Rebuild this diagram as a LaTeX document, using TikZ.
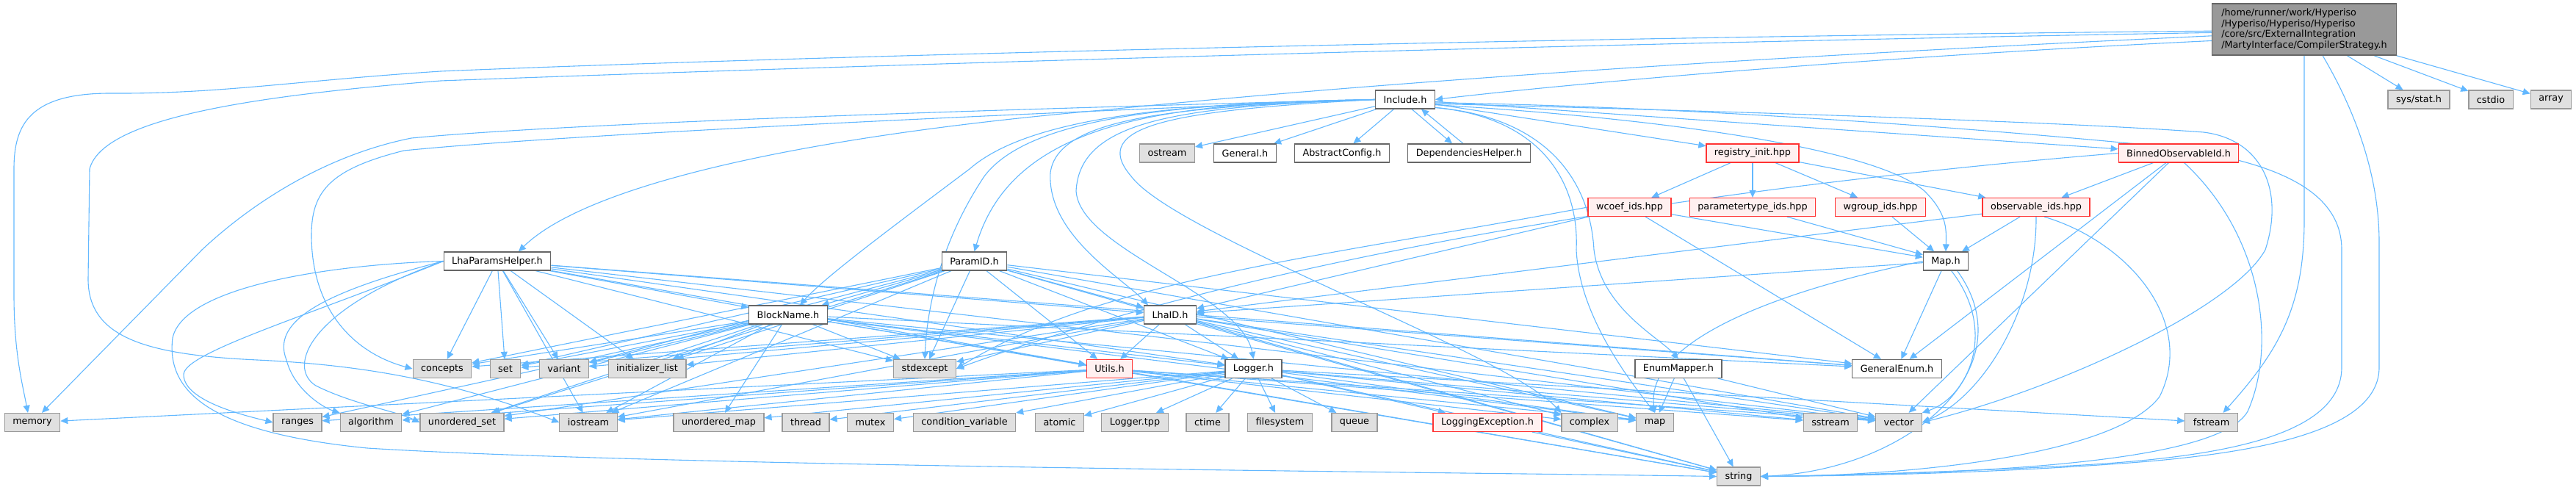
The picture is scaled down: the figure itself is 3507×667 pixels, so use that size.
\documentclass[tikz,border=0pt]{standalone}
\usepackage{fontspec}
\setmainfont{DejaVu Sans}
\usetikzlibrary{arrows.meta}
\definecolor{edgec}{HTML}{63B8FF}
\definecolor{gfill}{HTML}{E0E0E0}
\definecolor{gdraw}{HTML}{999999}
\definecolor{wdraw}{HTML}{666666}
\definecolor{rfill}{HTML}{FFF0F0}
\definecolor{rdraw}{HTML}{FF3333}
\definecolor{topfill}{HTML}{999999}
\pgfdeclarelayer{bg}
\pgfsetlayers{bg,main}
\tikzset{
  base/.style={draw, minimum height=12.5pt, inner xsep=5.5pt, inner ysep=0pt, line width=0.6pt,
    font=\fontsize{6.4pt}{7.35pt}\selectfont},
  gbox/.style={base, fill=gfill, draw=gdraw},
  wbox/.style={base, fill=white, draw=wdraw},
  rbox/.style={base, fill=rfill, draw=rdraw},
  topbox/.style={base, fill=topfill, draw=wdraw, minimum width=125.5pt, minimum height=35pt, align=left},
  edg/.style={draw=edgec, line width=0.55pt, -{Triangle[length=5pt,width=4.5pt]}}
}
\begin{document}
\begin{tikzpicture}[x=0.5pt,y=-0.5pt]
\useasboundingbox (0,0) rectangle (3507,667);
% nodes
\node[topbox] (CS) at (3137,40) {/home/runner/work/Hyperiso\\/Hyperiso/Hyperiso/Hyperiso\\/core/src/ExternalIntegration\\/MartyInterface/CompilerStrategy.h};
\node[wbox] (inc) at (1913,135.5) {Include.h};
\node[gbox] (sysstat) at (3293,135.5) {sys/stat.h};
\node[gbox] (cstdio) at (3391,135.5) {cstdio};
\node[gbox] (array) at (3473,135.5) {array};
\node[gbox] (ostream) at (1589,208.5) {ostream};
\node[wbox] (general) at (1695,208.5) {General.h};
\node[wbox] (absconf) at (1827,208.5) {AbstractConfig.h};
\node[wbox] (dephelp) at (2000,208.5) {DependenciesHelper.h};
\node[rbox] (registry) at (2386,208.5) {registry\_init.hpp};
\node[rbox] (binned) at (2966,208.5) {BinnedObservableId.h};
\node[rbox] (wcoef) at (2218.5,282) {wcoef\_ids.hpp};
\node[rbox] (ptype) at (2386,282) {parametertype\_ids.hpp};
\node[rbox] (wgroup) at (2560,282) {wgroup\_ids.hpp};
\node[rbox] (obs) at (2772,282) {observable\_ids.hpp};
\node[wbox] (lhap) at (677,355.5) {LhaParamsHelper.h};
\node[wbox] (paramid) at (1326.5,355.5) {ParamID.h};
\node[wbox] (maph) at (2649,355.5) {Map.h};
\node[wbox] (block) at (1073,428.5) {BlockName.h};
\node[wbox] (lhaid) at (1593,428.5) {LhaID.h};
\node[gbox] (concepts) at (602,502) {concepts};
\node[gbox] (nset) at (688,502) {set};
\node[gbox] (variant) at (768,502) {variant};
\node[gbox] (initl) at (881,502) {initializer\_list};
\node[gbox] (stdexc) at (1259,502) {stdexcept};
\node[rbox] (utils) at (1510.5,502) {Utils.h};
\node[wbox] (logger) at (1706.5,502) {Logger.h};
\node[wbox] (enummap) at (2285,502) {EnumMapper.h};
\node[wbox] (genenum) at (2582.5,502) {GeneralEnum.h};
\node[gbox] (memory) at (44,575) {memory};
\node[gbox] (ranges) at (405,575) {ranges};
\node[gbox] (algo) at (505,575) {algorithm};
\node[gbox] (uset) at (629,575) {unordered\_set};
\node[gbox] (iostream) at (801,575) {iostream};
\node[gbox] (umap) at (978.5,575) {unordered\_map};
\node[gbox] (thread) at (1097,575) {thread};
\node[gbox] (mutex) at (1185,575) {mutex};
\node[gbox] (condvar) at (1313,575) {condition\_variable};
\node[gbox] (atomic) at (1442.5,575) {atomic};
\node[gbox] (ltpp) at (1545,575) {Logger.tpp};
\node[gbox] (ctime) at (1644,575) {ctime};
\node[gbox] (filesys) at (1742.5,575) {filesystem};
\node[gbox] (queue) at (1844,575) {queue};
\node[rbox] (logexc) at (2025,575) {LoggingException.h};
\node[gbox] (complex) at (2164,575) {complex};
\node[gbox] (nmap) at (2253,575) {map};
\node[gbox] (sstream) at (2492,575) {sstream};
\node[gbox] (vector) at (2585,575) {vector};
\node[gbox] (fstream) at (3010.5,575) {fstream};
\node[gbox] (string) at (2367,648.5) {string};

\begin{pgfonlayer}{bg}
% CompilerStrategy.h
\draw[edg] (CS.181) .. controls (2000,52) and (1000,80) .. (600,97) .. controls (400,110) and (300,128) .. (150,127) .. controls (40,127) and (19,170) .. (19,230) -- (19,400) .. controls (19,480) and (30,520) .. ([xshift=-3pt]memory.north);
\draw[edg] (CS.182) .. controls (2000,62) and (1000,95) .. (600,110) .. controls (350,130) and (140,160) .. (122,230) -- (120,380) .. controls (120,460) and (200,483) .. (350,490) .. controls (500,497) and (620,520) .. (iostream.west);
\draw[edg] (CS.184) .. controls (2600,68) and (2000,100) .. (1500,150) .. controls (1100,185) and (800,250) .. ([xshift=14.5pt]lhap.north);
\draw[edg] (CS.187) .. controls (2500,80) and (2100,118) .. (inc.east);
\draw[edg] (CS) -- (sysstat);
\draw[edg] (CS) -- (cstdio);
\draw[edg] (CS) -- (array);
\draw[edg] (CS.south) -- (3137,300) .. controls (3137,420) and (3100,480) .. ([xshift=8pt]fstream.north);
\draw[edg] ([xshift=12.5pt]CS.south) .. controls (3200,140) and (3239,230) .. (3239,330) -- (3239,500) .. controls (3239,580) and (3100,615) .. (2900,630) .. controls (2700,645) and (2500,648) .. (string.east);
% Include.h
\draw[edg] (inc) -- (ostream);
\draw[edg] (inc) -- (general);
\draw[edg] (inc) -- (absconf);
\draw[edg] ([xshift=4.5pt]inc.south) -- ([xshift=-11.5pt]dephelp.north);
\draw[edg] ([xshift=-4pt]dephelp.north) -- ([xshift=11pt]inc.south);
\draw[edg] (inc) -- (registry);
\draw[edg] (inc) -- (binned);
\draw[edg] (inc.west) .. controls (1600,140) and (1380,160) .. (paramid.north);
\draw[edg] (inc.west) .. controls (1600,140) and (1400,160) .. (1320,230) .. controls (1200,320) and (1120,380) .. ([xshift=8pt]block.north);
\draw[edg] (inc.west) .. controls (1600,140) and (1400,160) .. (1340,240) .. controls (1280,330) and (1262,420) .. (stdexc.north);
\draw[edg] (inc.west) .. controls (1600,145) and (1440,160) .. (1430,235) .. controls (1425,320) and (1530,380) .. ([xshift=-15pt]lhaid.north);
\draw[edg] (inc.west) .. controls (1600,145) and (1470,165) .. (1465,260) .. controls (1470,340) and (1690,400) .. (logger.north);
\draw[edg] (inc.west) .. controls (1600,150) and (1480,170) .. (1540,240) .. controls (1600,320) and (2050,480) .. (complex.north west);
\draw[edg] (inc.west) .. controls (1500,145) and (800,165) .. (560,188) .. controls (450,210) and (350,270) .. (275,340) -- ([xshift=6.5pt]memory.north);
\draw[edg] (inc.west) .. controls (1500,150) and (800,180) .. (550,205) .. controls (450,230) and (424,260) .. (424,320) .. controls (424,420) and (480,480) .. (concepts.west);
\draw[edg] (inc.-15) .. controls (2100,160) and (2150,250) .. (2146,340) .. controls (2150,430) and (2220,520) .. (nmap.north);
\draw[edg] (inc.-15) .. controls (2110,160) and (2165,250) .. (2170,340) .. controls (2180,420) and (2260,460) .. (enummap.north);
\draw[edg] (inc.-10) .. controls (2250,160) and (2550,200) .. (2620,260) .. controls (2650,290) and (2650,310) .. (maph.north);
\draw[edg] (inc.-8) .. controls (2300,150) and (2800,165) .. (3000,180) .. controls (3080,190) and (3110,260) .. (3084,340) .. controls (3040,420) and (2800,530) .. (vector.east);
\draw[edg] (inc.-6) .. controls (2300,145) and (2700,175) .. (2950,200) .. controls (3100,220) and (3188,260) .. (3188,340) -- (3188,500) .. controls (3188,600) and (3000,625) .. (2800,635) .. controls (2600,645) and (2450,648) .. (string.east);
% registry & ids
\draw[edg] (registry) -- (wcoef);
\draw[edg] (registry) -- (ptype);
\draw[edg] (registry) -- (wgroup);
\draw[edg] (registry) -- (obs);
\draw[edg] (wcoef) -- (maph);
\draw[edg] (wcoef) -- (genenum);
\draw[edg] (wcoef) -- (lhaid);
\draw[edg] (wcoef.west) .. controls (1800,350) and (1500,380) .. (stdexc.east);
\draw[edg] (ptype) -- (maph);
\draw[edg] (wgroup) -- (maph);
\draw[edg] (obs) -- (maph);
\draw[edg] (obs) -- (lhaid);
\draw[edg] (obs.south) .. controls (2773,420) and (2700,540) .. (vector.east);
\draw[edg] (obs.-50) .. controls (2900,330) and (2990,440) .. (2940,540) .. controls (2880,620) and (2600,648) .. (string.east);
% Binned
\draw[edg] (binned) -- (obs);
\draw[edg] (binned) -- (genenum);
\draw[edg] (binned) -- (vector);
\draw[edg] (binned.west) .. controls (2500,240) and (1800,320) .. (stdexc.east);
\draw[edg] (binned.-60) .. controls (3080,320) and (3100,470) .. (3060,560) .. controls (3020,630) and (2700,645) .. (string.east);
% Map.h
\draw[edg] (maph) -- (genenum);
\draw[edg] (maph) -- (lhaid);
\draw[edg] (maph.-60) .. controls (2720,450) and (2680,540) .. (vector.north east);
\draw[edg] (maph.-40) .. controls (2760,500) and (2600,640) .. (string.east);
\draw[edg] (maph.west) .. controls (2400,400) and (2240,470) .. (nmap.north);
% EnumMapper
\foreach \t in {nmap,string,vector} \draw[edg] (enummap) -- (\t);
% LhaParamsHelper
\foreach \t in {block,lhaid,logger,utils,genenum,stdexc,vector,iostream,concepts,nset,variant,initl} \draw[edg] (lhap) -- (\t);
\draw[edg] (lhap.west) .. controls (420,430) and (250,480) .. (250,510) .. controls (250,545) and (330,565) .. (ranges.west);
\draw[edg] (lhap.west) .. controls (430,400) and (370,440) .. (390,490) .. controls (400,530) and (440,555) .. (algo.north west);
\draw[edg] (lhap.west) .. controls (420,420) and (390,500) .. (430,525) .. controls (480,550) and (540,560) .. (uset.west);
\draw[edg] (lhap.west) .. controls (450,360) and (250,390) .. (235,460) .. controls (225,540) and (300,590) .. (500,610) .. controls (900,635) and (2000,643) .. (string.west);
% ParamID
\foreach \t in {block,lhaid,utils,logger,stdexc,concepts,nset,variant,initl,string,vector,genenum,nmap,uset,iostream} \draw[edg] (paramid) -- (\t);
% BlockName
\foreach \t in {ranges,algo,uset,iostream,concepts,nset,variant,initl,stdexc,utils,logger,string,vector,umap,genenum,nmap} \draw[edg] (block) -- (\t);
% LhaID
\foreach \t in {utils,logger,genenum,stdexc,concepts,nset,variant,initl,iostream,string,vector,nmap,complex,sstream,uset} \draw[edg] (lhaid) -- (\t);
% Utils
\foreach \t in {memory,ranges,algo,uset,iostream,complex,vector,string,sstream,nmap} \draw[edg] (utils) -- (\t);
% Logger
\foreach \t in {iostream,umap,thread,mutex,condvar,atomic,ltpp,ctime,filesys,queue,logexc,nmap,sstream,vector,string,fstream} \draw[edg] (logger) -- (\t);
\draw[edg] (logexc) -- (string);
\end{pgfonlayer}
\end{tikzpicture}
\end{document}
